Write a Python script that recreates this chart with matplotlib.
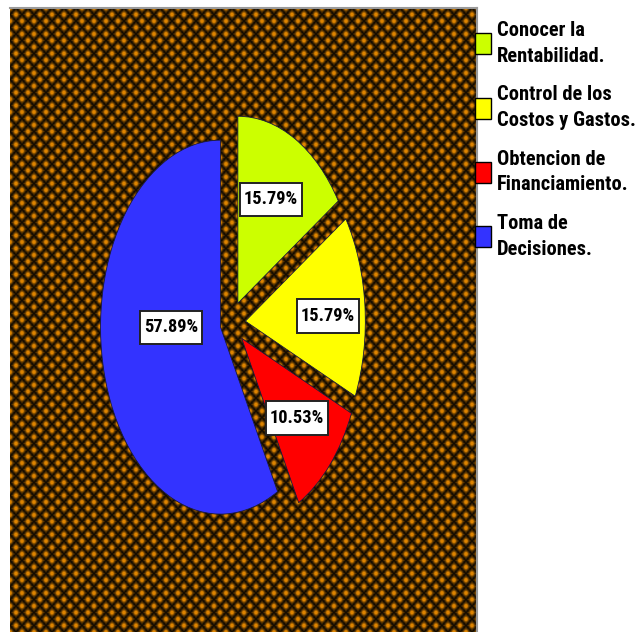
import numpy as np
import matplotlib
matplotlib.use("Agg")
import matplotlib.pyplot as plt
from matplotlib.patches import Patch
from matplotlib.path import Path
from matplotlib.font_manager import FontProperties, fontManager

# Survey results: purpose of the accounting information
categories = [
    "Conocer la\nRentabilidad.",
    "Control de los\nCostos y Gastos.",
    "Obtencion de\nFinanciamiento.",
    "Toma de\nDecisiones.",
]
percentages = [15.79, 15.79, 10.53, 57.89]
colors = ["#ccff00", "#ffff00", "#ff0000", "#3333ff"]

# Styling of the slices and their value boxes
explode = [0.12, 0.12, 0.12, 0.09]
label_dist = [0.62, 0.69, 0.63, 0.41]
label_turn = [2.0, -2.5, 0.0, -14.0]  # degrees added to each slice's mid angle

W, H, DPI = 639, 632, 100


def narrow_bold_font():
    """Pick a bold condensed sans face if one is installed."""
    best, best_rank = None, None
    prefs = ["liberation sans narrow", "roboto condensed", "dejavu sans",
             "open sans", "noto sans", "lato", "inter"]
    for f in fontManager.ttflist:
        name = f.name.lower()
        fname = f.fname.lower()
        narrow = ("narrow" in name or "condensed" in name
                  or "narrow" in fname or "condensed" in fname
                  or f.stretch in ("condensed", "semi-condensed",
                                   "extra-condensed", "ultra-condensed"))
        if not narrow:
            continue
        w = f.weight if isinstance(f.weight, int) else (
            700 if "bold" in str(f.weight) else 400)
        if "italic" in f.style or "oblique" in f.style:
            continue
        fam_rank = next((i for i, p in enumerate(prefs) if name.startswith(p)),
                        len(prefs))
        rank = (fam_rank, abs(w - 700))
        if best_rank is None or rank < best_rank:
            best, best_rank = f, rank
    if best is not None:
        return FontProperties(fname=best.fname), True
    return FontProperties(family="Liberation Sans", weight="bold"), False


def tall_box(x0, y0, width, height, mutation_size):
    """Square box with more padding above/below the text than beside it."""
    px, py = 0.22 * mutation_size, 0.42 * mutation_size
    xa, ya = x0 - px, y0 - py
    xb, yb = x0 + width + px, y0 + height + py
    return Path([(xa, ya), (xb, ya), (xb, yb), (xa, yb), (xa, ya)],
                closed=True)


def star_texture(w, h, px=12.0, py=13.0, ss=3):
    """Brown star-grid fill used as the plot background."""
    ys, xs = np.mgrid[0:h * ss, 0:w * ss]
    xs = (xs + 0.5) / ss
    ys = (ys + 0.5) / ss

    def wrap(v, p):
        return (v + p / 2) % p - p / 2

    def star(dx, dy):
        adx, ady = np.abs(dx), np.abs(dy)
        blob = np.exp(-(dx ** 2 + (dy * 0.9) ** 2) / (2 * 1.9 ** 2))
        arm_v = np.exp(-adx ** 2 / (2 * 0.75 ** 2)) * np.clip(
            1 - ady / (0.5 * py), 0, 1)
        arm_h = np.exp(-ady ** 2 / (2 * 0.75 ** 2)) * np.clip(
            1 - adx / (0.5 * px), 0, 1)
        return np.maximum(blob, 0.85 * np.maximum(arm_v, arm_h))

    a = star(wrap(xs, px), wrap(ys, py))
    b = star(wrap(xs + px / 2, px), wrap(ys + py / 2, py))
    v = np.maximum(a, b)
    v = v.reshape(h, ss, w, ss).mean(axis=(1, 3))
    v = np.clip(v * 1.25, 0, 1)
    orange = np.array([222, 132, 0]) / 255.0
    return v[..., None] * orange


font, is_narrow = narrow_bold_font()
scale = 1.0 if is_narrow else 0.8

fig = plt.figure(figsize=(W / DPI, H / DPI), dpi=DPI)

# Plot frame in pixel units
x0, x1, ytop = 10, 477, 8
pw, ph = x1 - x0, H - ytop
rect = [x0 / W, 0, pw / W, ph / H]

bg = fig.add_axes(rect, zorder=0)
bg.imshow(star_texture(pw, ph), aspect="auto", interpolation="nearest",
          extent=(0, pw, ph, 0))
bg.set_axis_off()

ax = fig.add_axes(rect, zorder=1)
ax.patch.set_alpha(0)
wedges, _ = ax.pie(
    percentages,
    explode=explode,
    colors=colors,
    startangle=90,
    counterclock=False,
    wedgeprops=dict(edgecolor="#1a1a3a", linewidth=0.6),
)
ax.set_aspect("auto")

# Elliptical pie: horizontal radius 120 px, vertical radius 187 px
cx_px, cy_px = 221, 315  # pie centre measured from frame left / top
rx, ry = 120.0, 187.0
ax.set_xlim(-cx_px / rx, (pw - cx_px) / rx)
ax.set_ylim(-(ph - cy_px) / ry, cy_px / ry)
ax.set_axis_off()

# Frame edges on top and right
ax.plot([0, 1], [1, 1], transform=ax.transAxes, color="#9a9a9a", lw=1.5,
        clip_on=False)
ax.plot([1, 1], [0, 1], transform=ax.transAxes, color="#9a9a9a", lw=1.5,
        clip_on=False)

# Percentage labels in white boxes
label_font = font.copy()
label_font.set_size(13.2 * scale)
for w, p, d, t in zip(wedges, percentages, label_dist, label_turn):
    theta = np.deg2rad((w.theta1 + w.theta2) / 2 + t)
    cx, cy = w.center
    ax.text(cx + d * np.cos(theta), cy + d * np.sin(theta), f"{p:.2f}%",
            ha="center", va="center", fontproperties=label_font,
            color="black",
            bbox=dict(boxstyle=tall_box, facecolor="white",
                      edgecolor="#222222", linewidth=1.4))

legend_font = font.copy()
legend_font.set_size(14.8 * scale)
handles = [Patch(facecolor=c, edgecolor="black", linewidth=1.0) for c in colors]
leg = fig.legend(
    handles, categories,
    loc="upper left",
    bbox_to_anchor=(475 / W, 1 - 21 / H),
    frameon=False,
    prop=legend_font,
    handlelength=0.8 / scale,
    handleheight=1.2 / scale,
    handletextpad=0.25,
    labelspacing=0.95,
    borderpad=0,
    borderaxespad=0,
)
for txt in leg.get_texts():
    txt.set_linespacing(1.45)

fig.savefig("out.png", dpi=DPI)
